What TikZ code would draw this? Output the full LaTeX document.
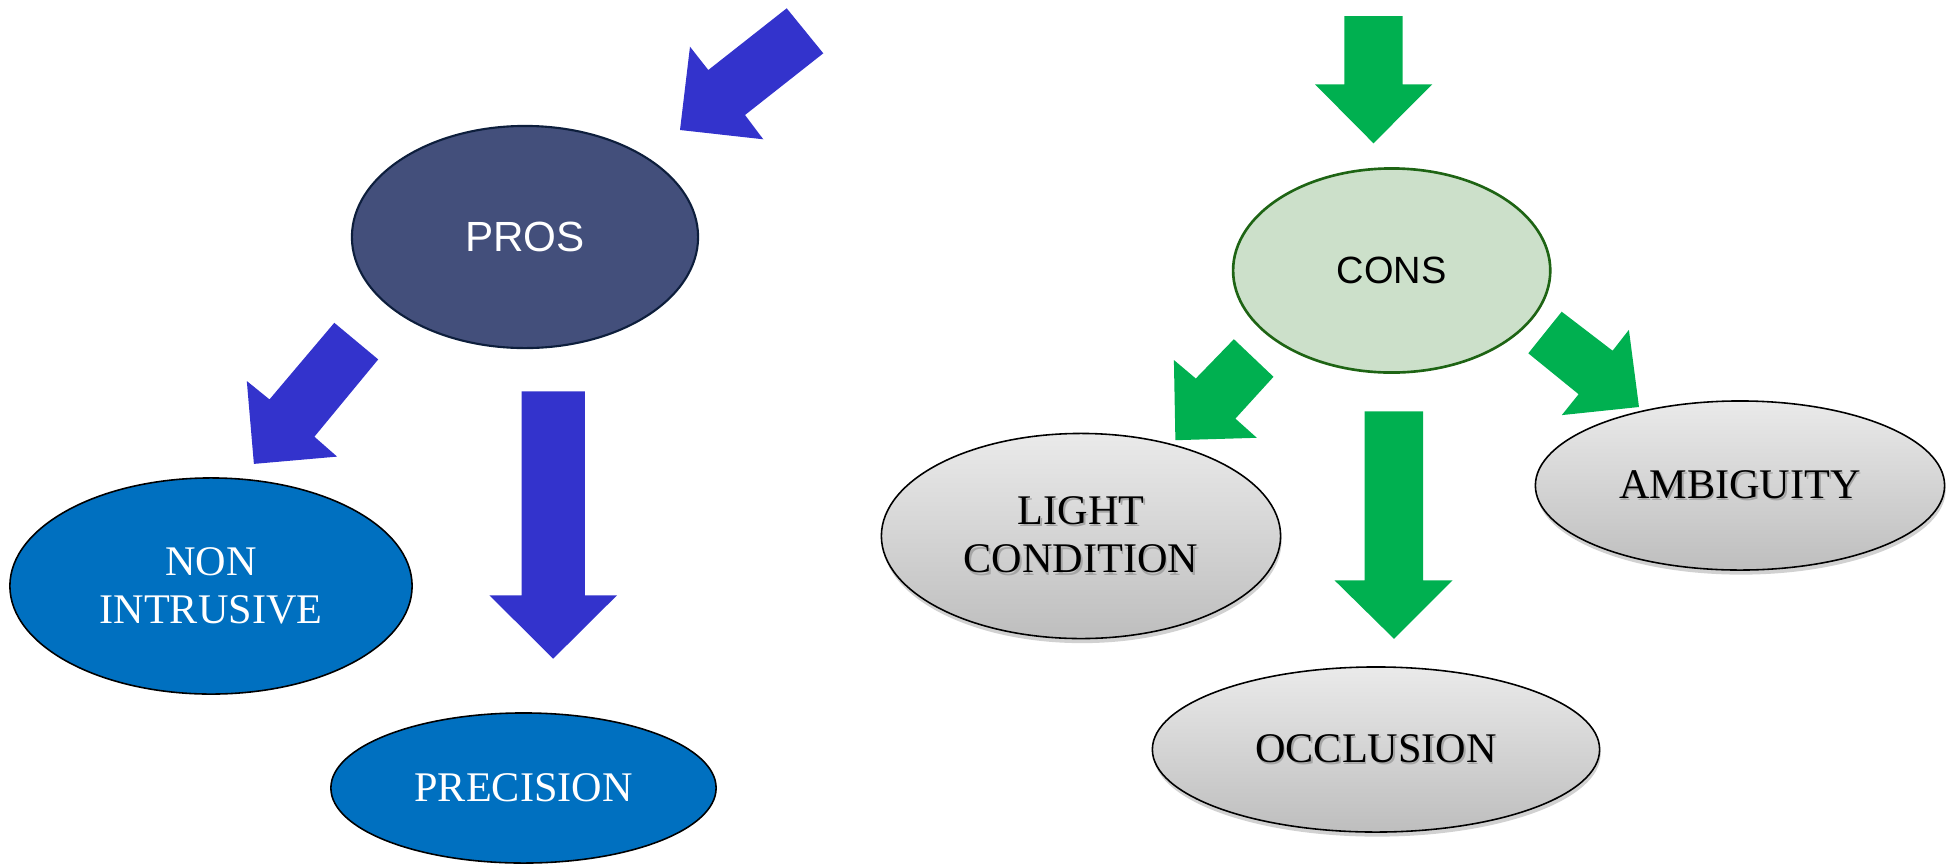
\documentclass[tikz,border=0pt]{standalone}
\usepackage{fontspec}
\setmainfont{Liberation Serif}
\newfontfamily\arialf{Liberation Sans}
\usetikzlibrary{shapes.geometric,shadows}
\definecolor{arrowblue}{HTML}{3333CC}
\definecolor{arrowgreen}{HTML}{00B050}
\definecolor{prosfill}{HTML}{434F7B}
\definecolor{prosline}{HTML}{0D1E3C}
\definecolor{consfill}{HTML}{CCE0CA}
\definecolor{consline}{HTML}{1E6414}
\definecolor{bluefill}{HTML}{0070C0}
\definecolor{graytop}{HTML}{EAEAEA}
\definecolor{graybot}{HTML}{BEBEBE}
\newcommand{\shd}[1]{\leavevmode\rlap{\kern0.45pt\raisebox{-0.7pt}{\textcolor{black!35}{#1}}}#1}
\tikzset{
  blk/.style={fill=arrowblue, draw=none},
  grn/.style={fill=arrowgreen, draw=none},
  ell/.style={ellipse, inner sep=0pt, align=center},
  serifbig/.style={font=\fontsize{12pt}{13.7pt}\selectfont},
  prosnode/.style={ell, fill=prosfill, draw=prosline, line width=0.6pt, text=white,
     font=\arialf\fontsize{12pt}{14pt}\selectfont},
  consnode/.style={ell, fill=consfill, draw=consline, line width=0.75pt, text=black,
     font=\arialf\fontsize{10.8pt}{13pt}\selectfont},
  bluenode/.style={ell, fill=bluefill, draw=black, line width=0.45pt, text=white, serifbig},
  graynode/.style={ell, top color=graytop, bottom color=graybot, draw=black, line width=0.45pt,
     text=black, serifbig,
     drop shadow={shadow xshift=0.3pt, shadow yshift=-1.3pt, opacity=0.18, fill=black}},
}
\begin{document}
\begin{tikzpicture}[x=0.01cm,y=-0.01cm]
\useasboundingbox (0,0) rectangle (1947,866);

% ---- left side (PROS) ----
\fill[blk] (786.7,8.3) -- (823.3,53.3) -- (745,115) -- (763.3,139.3) -- (680,130)
  -- (690,46.7) -- (708.3,70) -- cycle;

\node[prosnode, minimum width=3.46cm, minimum height=2.22cm] (pros) at (525,237) {PROS};

\fill[blk] (334.3,322.8) -- (378.2,359.4) -- (314.4,436.7) -- (337.1,456.6) -- (253.9,463.9)
  -- (246.8,381) -- (269.5,399.4) -- cycle;

\fill[blk] (521.5,391.4) -- (584.9,391.4) -- (584.9,595.3) -- (617,595.3) -- (553.2,658.7)
  -- (489.4,595.3) -- (521.5,595.3) -- cycle;

\node[bluenode, minimum width=4.02cm, minimum height=2.16cm] (nonintr) at (211,586) {NON\\INTRUSIVE};
\node[bluenode, minimum width=3.85cm, minimum height=1.50cm] (precision) at (523.5,788) {PRECISION};

% ---- right side (CONS) ----
\fill[grn] (1344.3,16) -- (1402.7,16) -- (1402.7,84.3) -- (1432.3,84.3) -- (1373.5,143.3)
  -- (1315,84.3) -- (1344.3,84.3) -- cycle;

\node[consnode, minimum width=3.17cm, minimum height=2.04cm] (cons) at (1391.7,270.5) {CONS};

\fill[grn] (1233.9,339.2) -- (1273.5,376.8) -- (1235.4,418.6) -- (1256.8,437.8) -- (1175.4,440.2)
  -- (1173.9,360) -- (1195.8,378.5) -- cycle;

\fill[grn] (1561.7,311.7) -- (1612.6,350.7) -- (1628.9,329.8) -- (1639,407) -- (1561.8,415.1)
  -- (1578.6,394.2) -- (1528.3,353.3) -- cycle;

\fill[grn] (1364.5,411.3) -- (1423,411.3) -- (1423,580.3) -- (1452.5,580.3) -- (1394,638.8)
  -- (1334.5,580.3) -- (1364.5,580.3) -- cycle;

\node[graynode, minimum width=3.99cm, minimum height=2.05cm] (light) at (1081,536) {\shd{LIGHT}\\\shd{CONDITION}};
\node[graynode, minimum width=4.09cm, minimum height=1.69cm] (ambig) at (1740,485.5) {\shd{AMBIGUITY}};
\node[graynode, minimum width=4.47cm, minimum height=1.65cm] (occl) at (1376,749.5) {\shd{OCCLUSION}};
\end{tikzpicture}
\end{document}
